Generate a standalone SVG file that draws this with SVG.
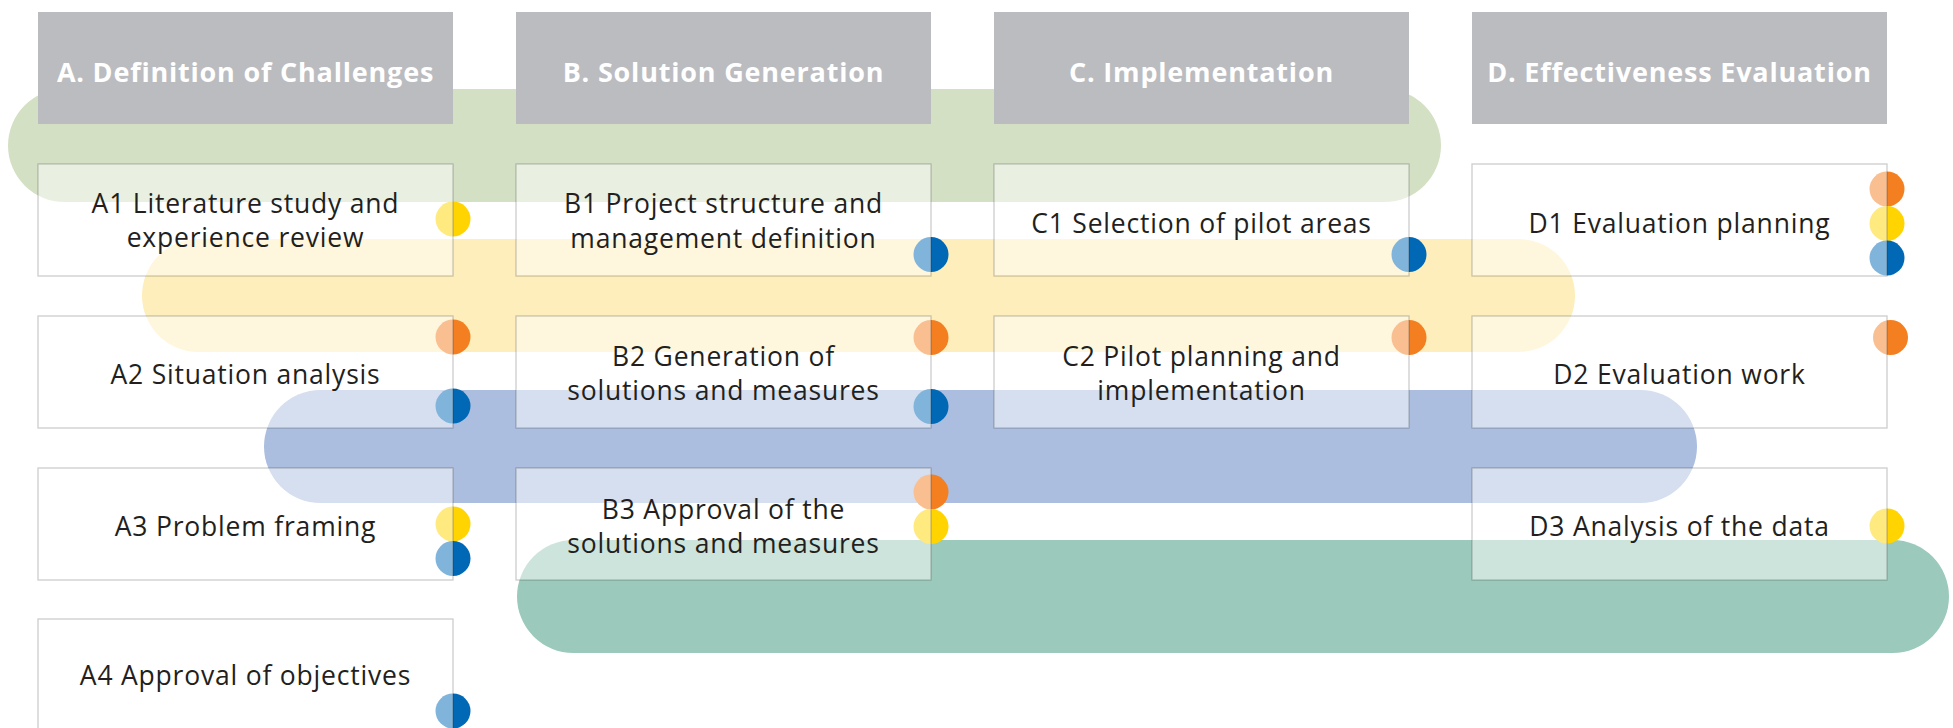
<svg xmlns="http://www.w3.org/2000/svg" width="1953" height="728" viewBox="0 0 1953 728">
  <style>
    .bg { fill: #ffffff; }
    .band { stroke: none; }
    .hdr rect { fill: #bbbcc0; }
    .hdr text { fill: #ffffff; font-family: "Open Sans", "Liberation Sans", sans-serif; font-weight: 700; font-size: 27px; letter-spacing: 0.8px; text-anchor: middle; }
    .box rect { fill: #ffffff; fill-opacity: 0.5; stroke: #000000; stroke-opacity: 0.2; stroke-width: 1.3; }
    .box text { fill: #231f20; font-family: "Open Sans", "Liberation Sans", sans-serif; font-size: 26.5px; letter-spacing: 0.8px; text-anchor: middle; }
    .or { fill: #f47f20; }
    .ye { fill: #ffd400; }
    .bl { fill: #0068b5; }
  </style>

  <rect class="bg" x="0" y="0" width="1953" height="728"/>

  <!-- swim bands linking tasks across phases -->
  <g id="bands">
    <rect class="band" x="8" y="89" width="1433" height="113" rx="56.5" fill="#d4e0c3"/>
    <rect class="band" x="142" y="239" width="1433" height="113" rx="56.5" fill="#fdeebb"/>
    <rect class="band" x="264" y="390" width="1433" height="113" rx="56.5" fill="#abbedf"/>
    <rect class="band" x="517" y="540" width="1432" height="113" rx="56.5" fill="#9bc9bb"/>
  </g>

  <!-- phase headers -->
  <g id="hdr-a" class="hdr"><rect x="38" y="12" width="415" height="112"/><text x="245.5" y="82">A. Definition of Challenges</text></g>
  <g id="hdr-b" class="hdr"><rect x="516" y="12" width="415" height="112"/><text x="723.5" y="82">B. Solution Generation</text></g>
  <g id="hdr-c" class="hdr"><rect x="994" y="12" width="415" height="112"/><text x="1201.5" y="82">C. Implementation</text></g>
  <g id="hdr-d" class="hdr"><rect x="1472" y="12" width="415" height="112"/><text x="1679.5" y="82">D. Effectiveness Evaluation</text></g>

  <!-- status dots (the box fill lightens the half inside each box) -->
  <g id="dots">
    <circle class="ye" cx="453" cy="219" r="17.5"/>
    <circle class="or" cx="453" cy="337" r="17.5"/>
    <circle class="bl" cx="453" cy="406" r="17.5"/>
    <circle class="ye" cx="453" cy="524" r="17.5"/>
    <circle class="bl" cx="453" cy="558.5" r="17.5"/>
    <circle class="bl" cx="453" cy="711" r="17.5"/>

    <circle class="bl" cx="931" cy="254.5" r="17.5"/>
    <circle class="or" cx="931" cy="337.5" r="17.5"/>
    <circle class="bl" cx="931" cy="406.5" r="17.5"/>
    <circle class="or" cx="931" cy="492" r="17.5"/>
    <circle class="ye" cx="931" cy="526.5" r="17.5"/>

    <circle class="bl" cx="1409" cy="254.5" r="17.5"/>
    <circle class="or" cx="1409" cy="337.5" r="17.5"/>

    <circle class="or" cx="1887" cy="189" r="17.5"/>
    <circle class="ye" cx="1887" cy="223.5" r="17.5"/>
    <circle class="bl" cx="1887" cy="258" r="17.5"/>
    <circle class="or" cx="1890.5" cy="337.5" r="17.5"/>
    <circle class="ye" cx="1887" cy="526" r="17.5"/>
  </g>

  <!-- task boxes -->
  <g id="a1" class="box"><rect x="38" y="164" width="415" height="112"/><text x="245.5" y="213">A1 Literature study and</text><text x="245.5" y="247">experience review</text></g>
  <g id="a2" class="box"><rect x="38" y="316" width="415" height="112"/><text x="245.5" y="384">A2 Situation analysis</text></g>
  <g id="a3" class="box"><rect x="38" y="468" width="415" height="112"/><text x="245.5" y="536">A3 Problem framing</text></g>
  <g id="a4" class="box"><rect x="38" y="619" width="415" height="112"/><text x="245.5" y="685">A4 Approval of objectives</text></g>

  <g id="b1" class="box"><rect x="516" y="164" width="415" height="112"/><text x="723.5" y="213">B1 Project structure and</text><text x="723.5" y="248">management definition</text></g>
  <g id="b2" class="box"><rect x="516" y="316" width="415" height="112"/><text x="723.5" y="366">B2 Generation of</text><text x="723.5" y="400">solutions and measures</text></g>
  <g id="b3" class="box"><rect x="516" y="468" width="415" height="112"/><text x="723.5" y="519">B3 Approval of the</text><text x="723.5" y="553">solutions and measures</text></g>

  <g id="c1" class="box"><rect x="994" y="164" width="415" height="112"/><text x="1201.5" y="233">C1 Selection of pilot areas</text></g>
  <g id="c2" class="box"><rect x="994" y="316" width="415" height="112"/><text x="1201.5" y="366">C2 Pilot planning and</text><text x="1201.5" y="400">implementation</text></g>

  <g id="d1" class="box"><rect x="1472" y="164" width="415" height="112"/><text x="1679.5" y="233">D1 Evaluation planning</text></g>
  <g id="d2" class="box"><rect x="1472" y="316" width="415" height="112"/><text x="1679.5" y="384">D2 Evaluation work</text></g>
  <g id="d3" class="box"><rect x="1472" y="468" width="415" height="112"/><text x="1679.5" y="536">D3 Analysis of the data</text></g>

  <!-- no connectors: the coloured bands carry the links -->
  <g id="connectors"/>
</svg>
